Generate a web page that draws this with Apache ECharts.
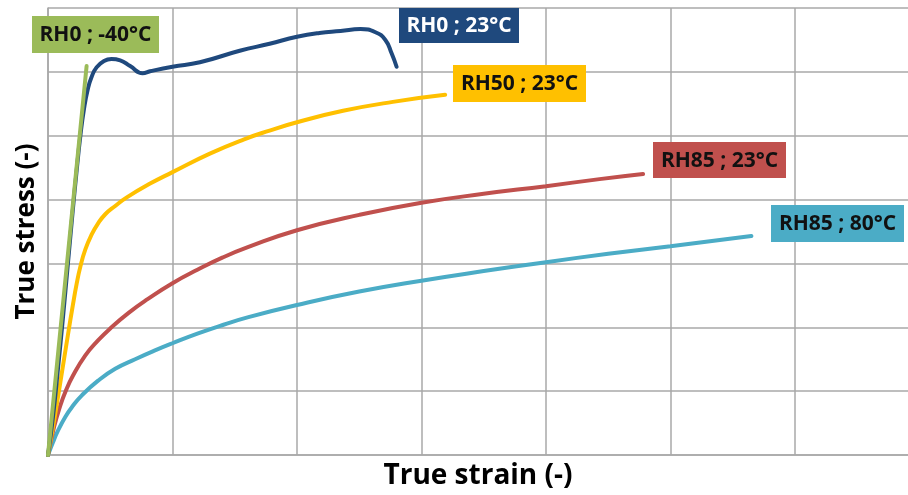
<!DOCTYPE html>
<html>
<head>
<meta charset="utf-8">
<script src="https://cdn.jsdelivr.net/npm/echarts@6/dist/echarts.min.js"></script>
<style>
html,body{margin:0;padding:0;background:#fff;}
#chart{width:908px;height:495px;}
</style>
</head>
<body>
<div id="chart"></div>
<script>
// True strain / true stress curves (arbitrary units)
const rh0m40 = [[0,0],[0.031,60.9]];
const rh0_23 = [[0,0],[0.004,6.0],[0.008,13.5],[0.012,21.5],[0.016,30.0],[0.020,38.5],[0.023,44.5],[0.026,50.0],[0.029,54.3],[0.032,57.3],[0.035,59.2],[0.039,60.7],[0.045,61.7],[0.051,62.0],[0.058,61.8],[0.066,60.9],[0.076,59.8],[0.082,60.1],[0.100,60.8],[0.122,61.5],[0.154,63.3],[0.178,64.4],[0.200,65.5],[0.218,66.1],[0.235,66.4],[0.251,66.7],[0.263,66.2],[0.271,65.0],[0.276,62.9],[0.280,60.8]];
const rh50_23 = [[0,0],[0.005,5.5],[0.010,11.5],[0.016,18.8],[0.020,23.5],[0.023,26.8],[0.026,29.5],[0.030,32.2],[0.035,34.5],[0.040,36.2],[0.046,37.7],[0.054,39.0],[0.063,40.3],[0.082,42.5],[0.100,44.3],[0.130,47.2],[0.157,49.4],[0.178,50.8],[0.200,52.1],[0.237,53.9],[0.277,55.3],[0.319,56.4]];
const rh85_23 = [[0,0],[0.005,4.5],[0.010,7.8],[0.014,9.9],[0.020,12.4],[0.030,15.6],[0.040,17.9],[0.051,20.0],[0.065,22.3],[0.080,24.4],[0.100,26.9],[0.120,29.0],[0.140,30.9],[0.160,32.5],[0.200,35.2],[0.250,37.6],[0.300,39.5],[0.350,40.9],[0.400,42.1],[0.443,43.2],[0.478,44.0]];
const rh85_80 = [[0,0],[0.004,2.0],[0.008,3.8],[0.014,6.0],[0.020,7.7],[0.027,9.3],[0.040,11.6],[0.054,13.5],[0.070,15.0],[0.085,16.3],[0.100,17.5],[0.120,19.0],[0.141,20.4],[0.161,21.6],[0.200,23.5],[0.250,25.6],[0.300,27.3],[0.350,28.8],[0.400,30.2],[0.450,31.5],[0.500,32.7],[0.565,34.3]];
const seriesNames = ['RH0 ; -40°C','RH0 ; 23°C','RH50 ; 23°C','RH85 ; 23°C','RH85 ; 80°C'];
const seriesColors = ['#9BBB59','#1F497D','#FFC000','#C0504D','#4BACC6'];
const xTitle = 'True strain (-)';
const yTitle = 'True stress (-)';

const FONT = '"Open Sans", sans-serif';
const chart = echarts.init(document.getElementById('chart'));
const gridColor = '#A9A9A9';
const allData = [rh0m40, rh0_23, rh50_23, rh85_23, rh85_80];
// label boxes: [left, top, width, height, textColor]
const boxes = [[32,16,127,37,'#111'],[399,8,120,35,'#fff'],[453,65,133,37,'#111'],[653,142,133,36,'#111'],[771,205,133,37,'#111']];
const graphics = [];
boxes.forEach((b,i)=>{
  graphics.push({type:'rect', left:b[0], top:b[1], shape:{width:b[2], height:b[3]}, style:{fill:seriesColors[i]}, z:100});
  graphics.push({type:'text', x:b[0]+b[2]/2, y:b[1]+b[3]/2+1, style:{text:seriesNames[i], fill:b[4], font:'bold 21px '+FONT, textAlign:'center', textVerticalAlign:'middle'}, z:101});
});
chart.setOption({
  animation:false,
  grid:{left:48, top:8, width:860, height:447},
  xAxis:{type:'value', min:0, max:0.6908, interval:0.1,
    name:xTitle, nameLocation:'middle', nameGap:7,
    nameTextStyle:{fontFamily:FONT, fontWeight:'bold', fontSize:28, color:'#000', verticalAlign:'top'},
    axisLine:{show:true, lineStyle:{color:gridColor, width:1.5}}, axisTick:{show:false}, axisLabel:{show:false},
    splitLine:{show:true, showMaxLine:false, lineStyle:{color:gridColor, width:1.5}}},
  yAxis:{type:'value', min:0, max:70, interval:10,
    name:yTitle, nameLocation:'middle', nameGap:8,
    nameTextStyle:{fontFamily:FONT, fontWeight:'bold', fontSize:26, color:'#000'},
    axisLine:{show:true, lineStyle:{color:gridColor, width:1.5}}, axisTick:{show:false}, axisLabel:{show:false},
    splitLine:{show:true, lineStyle:{color:gridColor, width:1.5}}},
  series: allData.map((d,i)=>({
    name:seriesNames[i], type:'line', data:d, showSymbol:false, symbol:'none', smooth:0.5,
    lineStyle:{color:seriesColors[i], width:4, cap:'round'}, z: 10 - i
  })),
  graphic: graphics
});
</script>
</body>
</html>
